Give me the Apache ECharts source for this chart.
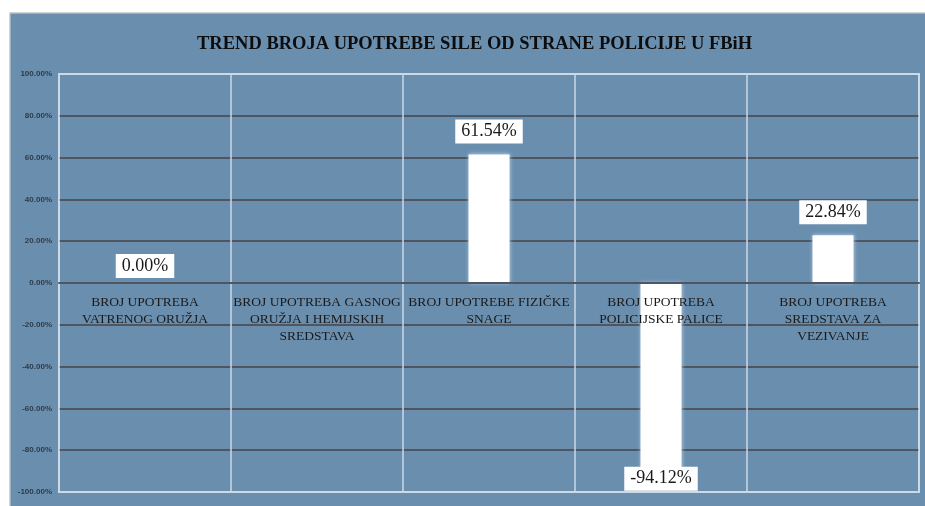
<!DOCTYPE html>
<html>
<head>
<meta charset="utf-8">
<script src="https://cdn.jsdelivr.net/npm/echarts@6/dist/echarts.min.js"></script>
<style>html,body{margin:0;padding:0;background:#fff;}#c{width:925px;height:506px;}</style>
</head>
<body>
<div id="c"></div>
<script>
var titleText = 'TREND BROJA UPOTREBE SILE OD STRANE POLICIJE U FBiH';
var categories = [
  'BROJ UPOTREBA\nVATRENOG ORUŽJA',
  'BROJ UPOTREBA GASNOG\nORUŽJA I HEMIJSKIH\nSREDSTAVA',
  'BROJ UPOTREBE FIZIČKE\nSNAGE',
  'BROJ UPOTREBA\nPOLICIJSKE PALICE',
  'BROJ UPOTREBA\nSREDSTAVA ZA\nVEZIVANJE'
];
var values = [0.00, null, 61.54, -94.12, 22.84];
var yMin = -100, yMax = 100, yStep = 20;

var chart = echarts.init(document.getElementById('c'), null, {renderer: 'canvas'});
var splitColors = [];
for (var i = 0; i <= (yMax - yMin) / yStep; i++) {
  splitColors.push(i === 0 || i === (yMax - yMin) / yStep ? 'transparent' : '#4d5661');
}
var serif = '"Liberation Serif", "DejaVu Serif", serif';
var data = values.map(function (v) {
  if (v === null) return null;
  var item = {value: v};
  if (v < 0) {
    item.label = {position: 'bottom', distance: -13};
  } else if (v === 0) {
    item.label = {distance: 5};
  }
  return item;
});

chart.setOption({
  backgroundColor: '#ffffff',
  animation: false,
  graphic: [{
    type: 'rect', left: 9, top: 12, z: -10,
    shape: {width: 930, height: 510},
    style: {fill: '#6a8eae', stroke: '#d4d4d4', lineWidth: 1.5}
  }],
  title: {
    text: titleText, left: 192, top: 30,
    textStyle: {fontFamily: serif, fontWeight: 'bold', fontSize: 18.5, color: '#0d0d0d'}
  },
  grid: {
    left: 59, right: 6, top: 74, bottom: 14,
    outerBoundsMode: 'none', containLabel: false,
    show: true, borderColor: '#cdd9e5', borderWidth: 2, backgroundColor: 'transparent'
  },
  xAxis: {
    type: 'category', data: categories, z: 3,
    axisLine: {show: true, onZero: true, lineStyle: {color: '#4d5661', width: 2}},
    axisTick: {show: false},
    splitLine: {show: true, lineStyle: {color: '#cdd9e5', width: 1.5}},
    axisLabel: {
      interval: 0, margin: 11, color: '#1a1a1a', fontFamily: serif, fontSize: 13.5, lineHeight: 17
    }
  },
  yAxis: {
    type: 'value', min: yMin, max: yMax, interval: yStep,
    axisLine: {show: false}, axisTick: {show: false},
    splitLine: {show: true, lineStyle: {color: splitColors, width: 2}},
    axisLabel: {
      margin: 7, color: '#2e3a48', fontSize: 8, fontWeight: 'bold',
      fontFamily: '"Liberation Sans", Arial, sans-serif',
      formatter: function (v) { return v.toFixed(2) + '%'; }
    }
  },
  series: [{
    type: 'bar', data: data, barWidth: 41,
    itemStyle: {color: '#ffffff', shadowColor: 'rgba(190,215,240,0.9)', shadowBlur: 4},
    label: {
      show: true, position: 'top', distance: 11,
      backgroundColor: '#ffffff', padding: [3, 6, 3, 6],
      color: '#1a1a1a', fontFamily: serif, fontSize: 18,
      formatter: function (p) { return p.value.toFixed(2) + '%'; }
    }
  }]
});

// Place the category axis at the zero value (onZero fallback)
var zeroY = chart.convertToPixel({yAxisIndex: 0}, 0);
var minY = chart.convertToPixel({yAxisIndex: 0}, yMin);
var xAxisLayout = chart.getModel().getComponent('xAxis', 0).axis;
var currentPos = xAxisLayout && xAxisLayout.onZero;
if (!currentPos) {
  chart.setOption({xAxis: {axisLine: {onZero: false}, offset: zeroY - minY}});
}
</script>
</body>
</html>
